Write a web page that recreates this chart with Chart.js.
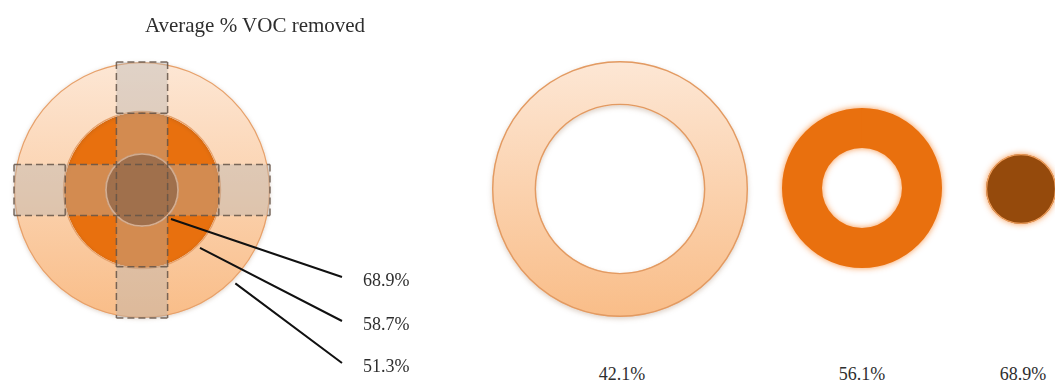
<!DOCTYPE html>
<html>
<head>
<meta charset="utf-8">
<title>Average % VOC removed</title>
<script src="https://cdn.jsdelivr.net/npm/chart.js@4.4.1/dist/chart.umd.min.js"></script>
<style>
  html, body { margin: 0; padding: 0; background: #fff; }
  #stage {
    position: relative; width: 1055px; height: 381px; overflow: hidden;
    font-family: "Liberation Serif", "Times New Roman", serif; color: #2e2e2e;
  }
  .box { position: absolute; }
  .txt { position: absolute; white-space: nowrap; line-height: 1; }
  .title { font-size: 21px; }
  .pct { font-size: 18px; }
</style>
</head>
<body>
<div id="stage">
  <div class="box" style="left:0;top:0;width:440px;height:381px"><canvas id="target"></canvas></div>
  <div class="box" style="left:480px;top:49px;width:280px;height:280px"><canvas id="ring0"></canvas></div>
  <div class="box" style="left:770px;top:96px;width:184px;height:184px"><canvas id="ring1"></canvas></div>
  <div class="box" style="left:974px;top:142px;width:94px;height:94px"><canvas id="ring2"></canvas></div>
</div>
<script>
// % VOC removed per zone of the target (outer -> inner)
const targetZones = ['Outer', 'Middle', 'Inner'];
const targetRemoval = [51.3, 58.7, 68.9];

// % VOC removed for the three separate rings (left -> right)
const ringNames = ['Ring A', 'Ring B', 'Ring C'];
const ringRemoval = [42.1, 56.1, 68.9];

const titleText = 'Average % VOC removed';

const fmt = v => v.toFixed(1) + '%';

const lightFill = (ctx) => {
  const area = ctx.chart.chartArea;
  if (!area) return '#fcd3ad';
  const g = ctx.chart.ctx.createLinearGradient(0, area.top, 0, area.bottom);
  g.addColorStop(0, '#fde7d5');
  g.addColorStop(1, '#f9bd88');
  return g;
};

// soft shadow / glow behind the arcs, then a clean outline on top
// (the arc's own border leaves a seam on a full circle)
const glowPlugin = {
  id: 'glow',
  beforeDatasetDraw(chart, args, opts) {
    const c = chart.ctx;
    c.save();
    c.shadowColor = opts.color || 'transparent';
    c.shadowBlur = opts.blur || 0;
    c.shadowOffsetY = opts.offsetY || 0;
  },
  afterDatasetDraw(chart, args) {
    const c = chart.ctx;
    c.restore();
    const ds = chart.data.datasets[args.index];
    if (!ds.outlineColor) return;
    const arc = args.meta.data[0];
    c.save();
    c.strokeStyle = ds.outlineColor;
    c.lineWidth = ds.outlineWidth || 1;
    c.beginPath();
    c.arc(arc.x, arc.y, arc.outerRadius - c.lineWidth / 2, 0, Math.PI * 2);
    if (arc.innerRadius > 0) {
      c.moveTo(arc.x + arc.innerRadius + c.lineWidth / 2, arc.y);
      c.arc(arc.x, arc.y, arc.innerRadius + c.lineWidth / 2, 0, Math.PI * 2);
    }
    c.stroke();
    c.restore();
  }
};

// dashed cross of squares laid over the target
const crossPlugin = {
  id: 'crossOverlay',
  afterDatasetsDraw(chart) {
    const arc = chart.getDatasetMeta(0).data[0];
    const cx = arc.x, cy = arc.y, R = arc.outerRadius;
    const s = R * 2 / 5;
    const c = chart.ctx;
    c.save();
    c.fillStyle = 'rgba(180,180,180,0.4)';
    c.fillRect(cx - s / 2, cy - R, s, 2 * R);
    c.fillRect(cx - R, cy - s / 2, R - s / 2, s);
    c.fillRect(cx + s / 2, cy - s / 2, R - s / 2, s);

    c.setLineDash([7, 4]);
    c.strokeStyle = 'rgba(100,84,72,0.85)';
    c.lineWidth = 1.5;
    c.beginPath();
    // long edges
    [-s / 2, s / 2].forEach(d => {
      c.moveTo(cx + d, cy - R); c.lineTo(cx + d, cy + R);
      c.moveTo(cx - R, cy + d); c.lineTo(cx + R, cy + d);
    });
    // cross edges
    [-2.5, -1.5, 1.5, 2.5].forEach(k => {
      c.moveTo(cx - s / 2, cy + k * s); c.lineTo(cx + s / 2, cy + k * s);
      c.moveTo(cx + k * s, cy - s / 2); c.lineTo(cx + k * s, cy + s / 2);
    });
    c.stroke();
    c.restore();
  },
  afterDraw(chart) {
    // leader lines from each zone edge to its label
    const c = chart.ctx;
    const ends = [173, 131, 87];
    c.save();
    c.strokeStyle = '#111';
    c.lineWidth = 2;
    c.beginPath();
    chart.data.datasets.forEach((ds, i) => {
      const arc = chart.getDatasetMeta(i).data[0];
      const a = Math.PI / 4;
      const r = arc.outerRadius + 4;
      c.moveTo(arc.x + r * Math.cos(a), arc.y + r * Math.sin(a));
      c.lineTo(arc.x + 200, arc.y + ends[i]);
    });
    c.stroke();
    c.restore();
  }
};

const baseOptions = (extra) => Object.assign({
  responsive: true,
  maintainAspectRatio: false,
  animation: false,
  events: [],
  plugins: { legend: { display: false }, tooltip: { enabled: false } }
}, extra);

// target: three concentric zones
new Chart(document.getElementById('target'), {
  type: 'doughnut',
  data: {
    labels: ['zone'],
    datasets: targetZones.map((name, i) => ({
      label: name,
      data: [targetRemoval[i]],
      weight: [50, 41, 37][i],
      backgroundColor: [lightFill, '#e8700e', '#934308'][i],
      borderWidth: 0,
      outlineColor: ['#e6a06a', null, '#f3b283'][i],
      outlineWidth: [1.2, 0, 1.8][i],
      hoverOffset: 0
    }))
  },
  options: baseOptions({
    cutout: 0,
    layout: { padding: { left: 14, top: 62, right: 170, bottom: 63 } },
    plugins: {
      legend: { display: false }, tooltip: { enabled: false },
      glow: { color: 'rgba(120,70,30,0.25)', blur: 4, offsetY: 1 }
    }
  }),
  plugins: [glowPlugin, crossPlugin]
});

// separate rings
const ringStyles = [
  { cutout: '65.6%', bg: lightFill, outline: '#e29a62', ow: 1.4, glow: { color: 'rgba(120,70,30,0.25)', blur: 5, offsetY: 2 } },
  { cutout: '50%', bg: '#e9700e', outline: null, ow: 0, glow: { color: 'rgba(245,140,60,0.9)', blur: 6, offsetY: 0 } },
  { cutout: 0, bg: '#954a0c', outline: '#f0a05e', ow: 1.2, glow: { color: 'rgba(245,140,60,0.9)', blur: 6, offsetY: 0 } }
];

ringRemoval.forEach((v, i) => {
  const st = ringStyles[i];
  new Chart(document.getElementById('ring' + i), {
    type: 'doughnut',
    data: {
      labels: [ringNames[i]],
      datasets: [{
        data: [v],
        backgroundColor: st.bg,
        borderWidth: 0,
        outlineColor: st.outline,
        outlineWidth: st.ow,
        hoverOffset: 0
      }]
    },
    options: baseOptions({
      cutout: st.cutout,
      layout: { padding: 12 },
      plugins: { legend: { display: false }, tooltip: { enabled: false }, glow: st.glow }
    }),
    plugins: [glowPlugin]
  });
});

// text
const stage = document.getElementById('stage');
const addText = (text, cls, left, top, center) => {
  const d = document.createElement('div');
  d.className = 'txt ' + cls;
  d.textContent = text;
  d.style.left = left + 'px';
  d.style.top = top + 'px';
  if (center) d.style.transform = 'translateX(-50%)';
  stage.appendChild(d);
};
addText(titleText, 'title', 255, 15, true);
targetRemoval.slice().reverse().forEach((v, i) => addText(fmt(v), 'pct', 363, [271, 315, 357][i], false));
ringRemoval.forEach((v, i) => addText(fmt(v), 'pct', [622, 862, 1023][i], 365, true));
</script>
</body>
</html>
